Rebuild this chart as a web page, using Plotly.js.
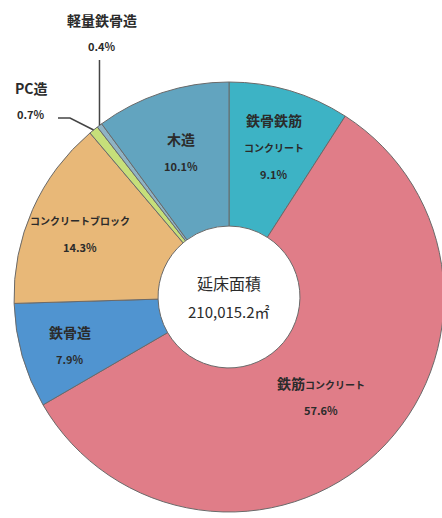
<!DOCTYPE html>
<html>
<head>
<meta charset="utf-8">
<script src="https://cdn.plot.ly/plotly-3.0.1.min.js"></script>
<style>
  html, body { margin: 0; padding: 0; overflow: hidden; background: #fff; }
  #chart { width: 458px; height: 518px; }
</style>
</head>
<body>
<div id="chart"></div>
<script>
const structures = ["鉄骨鉄筋コンクリート", "鉄筋コンクリート", "鉄骨造", "コンクリートブロック", "PC造", "軽量鉄骨造", "木造"];
const shares = [9.1, 57.6, 7.9, 14.3, 0.7, 0.4, 10.1];
const totalArea = "210,015.2㎡";

const W = 458, H = 518;
const cx = 229, cy = 297, R = 215;
const font = "'Noto Sans CJK JP', 'Noto Sans', sans-serif";
const ink = "#2b2b2b";

const colors = ["#3db3c5", "#e07d88", "#5094d0", "#e8b878", "#c6df7a", "#8fb3c4", "#62a4bf"];

// how each label is written inside the slice (lines, font sizes)
const labelLines = [
  [["<b>鉄骨鉄筋</b>", 14], ["<b>コンクリート</b>", 10]],
  [["<b>鉄筋<span style='font-size:10px'>コンクリート</span></b>", 14]],
  [["<b>鉄骨造</b>", 14]],
  [["<b>コンクリートブロック</b>", 10]],
  null,
  null,
  [["<b>木造</b>", 14]],
];
const radiusFactor = [0.74, 0.62, 0.77, 0.76, 0, 0, 0.72];

const total = shares.reduce((a, b) => a + b, 0);
const midAngle = [];
let acc = 0;
shares.forEach((v) => {
  midAngle.push(((acc + v / 2) / total) * 2 * Math.PI);
  acc += v;
});

const px = (x) => x / W;
const py = (y) => 1 - y / H;

const note = (x, y, text, size) => ({
  xref: "paper", yref: "paper",
  x: px(x), y: py(y),
  xanchor: "center", yanchor: "middle",
  text: text, showarrow: false,
  font: { family: font, size: size, color: ink },
});

const annotations = [];
const shapes = [];
shares.forEach((v, i) => {
  const lines = labelLines[i];
  if (!lines) return;
  const lx = cx + radiusFactor[i] * R * Math.sin(midAngle[i]);
  const ly = cy - radiusFactor[i] * R * Math.cos(midAngle[i]);
  const all = lines.concat([["<b>" + v.toFixed(1) + "%</b>", 11]]);
  const gap = 27;
  const start = ly - ((all.length - 1) * gap) / 2 + 3;
  all.forEach(([t, s], k) => annotations.push(note(lx, start + k * gap, t, s)));
});

// small slices: labels outside with leader lines
const outside = [
  { i: 5, tx: 102, ty: 20, path: (ex, ey) => [[ex, ey], [ex, 60]] },
  { i: 4, tx: 31, ty: 88, path: (ex, ey) => [[ex, ey], [70, 118], [58, 118]] },
];
outside.forEach((o) => {
  const ex = cx + R * Math.sin(midAngle[o.i]);
  const ey = cy - R * Math.cos(midAngle[o.i]);
  const pts = o.path(ex, ey);
  shapes.push({
    type: "path", xref: "paper", yref: "paper",
    path: pts.map((p, k) => (k ? "L" : "M") + px(p[0]) + "," + py(p[1])).join(" "),
    line: { color: "#444", width: 1.5 },
  });
  annotations.push(note(o.tx, o.ty, "<b>" + structures[o.i] + "</b>", 14));
  annotations.push(note(o.tx, o.ty + 26, "<b>" + shares[o.i].toFixed(1) + "%</b>", 11));
});

// centre text
annotations.push(note(cx, 283, "延床面積", 16));
annotations.push(note(cx, 311, totalArea, 15));

const trace = {
  type: "pie",
  labels: structures,
  values: shares,
  sort: false,
  direction: "clockwise",
  rotation: 0,
  hole: 0.33,
  textinfo: "none",
  hoverinfo: "label+percent",
  marker: { colors: colors, line: { color: "#6a6a6a", width: 1 } },
  domain: { x: [0, 1], y: [(H - (cy + R)) / H, (H - (cy - R)) / H] },
};

const layout = {
  width: W,
  height: H,
  margin: { l: 0, r: 0, t: 0, b: 0 },
  paper_bgcolor: "#fff",
  showlegend: false,
  annotations: annotations,
  shapes: shapes,
};

Plotly.newPlot("chart", [trace], layout, { displayModeBar: false, staticPlot: true });
</script>
</body>
</html>
